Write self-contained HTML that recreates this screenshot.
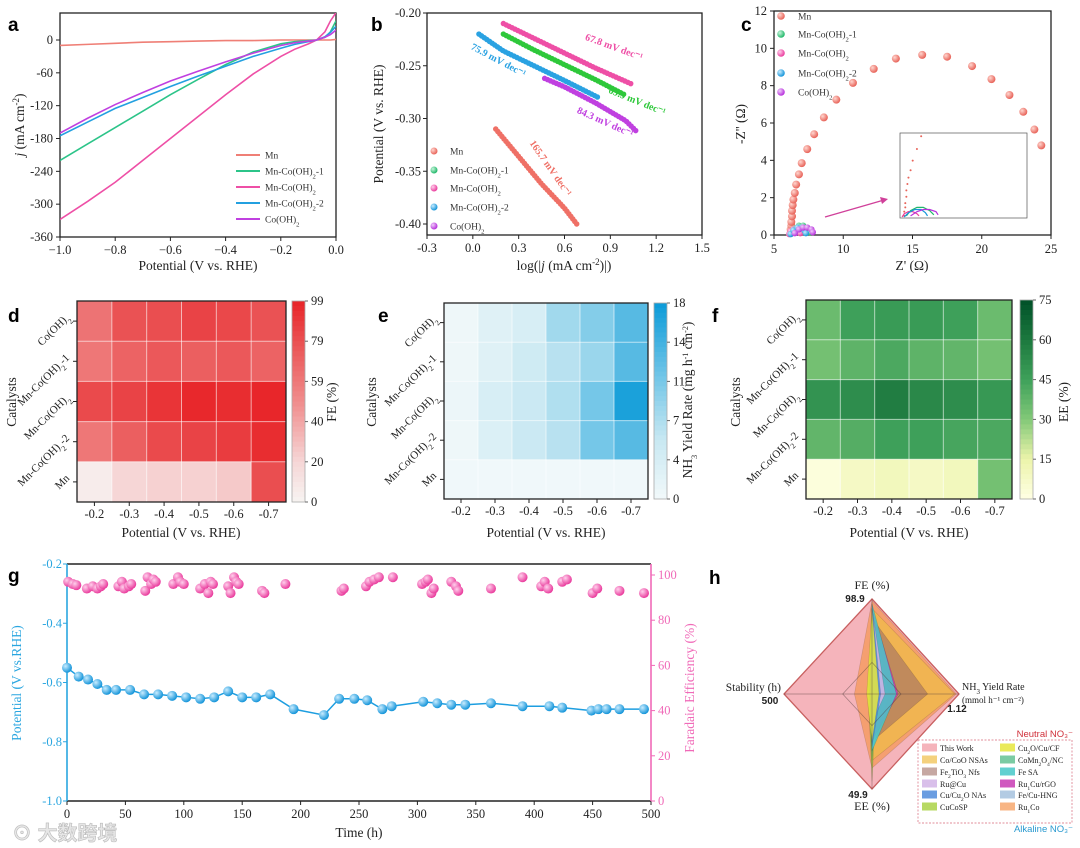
<!DOCTYPE html>
<html><head><meta charset="utf-8"><title>Catalyst figure</title>
<style>
html,body{margin:0;padding:0;background:#fff;}
svg{display:block;font-family:"Liberation Serif","Noto Serif CJK SC",serif;}
.lt{font-family:"Liberation Sans",sans-serif;font-weight:bold;font-size:19px;}
.tk{font-size:12.5px;fill:#222;}
.tk2{font-size:11px;fill:#222;}
.ti{font-size:13.5px;fill:#222;}
.lg{font-size:9.5px;fill:#333;}
.hl{font-size:8px;fill:#222;}
</style></head>
<body>
<svg id="fig" width="1080" height="848" viewBox="0 0 1080 848" xmlns="http://www.w3.org/2000/svg">
<defs>
 <clipPath id="clipA"><rect x="60" y="13" width="276" height="224"/></clipPath>
 <radialGradient id="gMn" cx="35%" cy="35%" r="65%"><stop offset="0" stop-color="#ffd6cf"/><stop offset="1" stop-color="#e8645a"/></radialGradient>
 <radialGradient id="gGr" cx="35%" cy="35%" r="65%"><stop offset="0" stop-color="#c8f5dc"/><stop offset="1" stop-color="#22b86a"/></radialGradient>
 <radialGradient id="gPk" cx="35%" cy="35%" r="65%"><stop offset="0" stop-color="#ffd0ec"/><stop offset="1" stop-color="#ea3e9e"/></radialGradient>
 <radialGradient id="gBl" cx="35%" cy="35%" r="65%"><stop offset="0" stop-color="#c9ecff"/><stop offset="1" stop-color="#1796da"/></radialGradient>
 <radialGradient id="gPu" cx="35%" cy="35%" r="65%"><stop offset="0" stop-color="#f0cdfb"/><stop offset="1" stop-color="#b731dc"/></radialGradient>
</defs>

<text class="lt" x="8" y="31">a</text>
<text class="lt" x="371" y="31">b</text>
<text class="lt" x="741" y="31">c</text>
<text class="lt" x="8" y="322">d</text>
<text class="lt" x="378" y="322">e</text>
<text class="lt" x="712" y="322">f</text>
<text class="lt" x="8" y="582">g</text>
<text class="lt" x="709" y="584">h</text>

<text class="ti" x="198" y="270" text-anchor="middle">Potential (V vs. RHE)</text>
<text class="ti" transform="translate(24,125) rotate(-90)" text-anchor="middle"><tspan font-style="italic">j</tspan> (mA cm<tspan baseline-shift="super" font-size="9">-2</tspan>)</text>
<text class="ti" x="564" y="270" text-anchor="middle">log(|<tspan font-style="italic">j</tspan> (mA cm<tspan baseline-shift="super" font-size="9">-2</tspan>)|)</text>
<text class="ti" transform="translate(383,124) rotate(-90)" text-anchor="middle">Potential (V vs. RHE)</text>
<text class="ti" x="912" y="270" text-anchor="middle">Z' (Ω)</text>
<text class="ti" transform="translate(745,124) rotate(-90)" text-anchor="middle">-Z'' (Ω)</text>

<text class="ti" x="181" y="537" text-anchor="middle">Potential (V vs. RHE)</text>
<text class="ti" transform="translate(16,402) rotate(-90)" text-anchor="middle">Catalysts</text>
<text class="ti" transform="translate(336,402) rotate(-90)" text-anchor="middle">FE (%)</text>
<text class="ti" x="546" y="537" text-anchor="middle">Potential (V vs. RHE)</text>
<text class="ti" transform="translate(376,402) rotate(-90)" text-anchor="middle">Catalysts</text>
<text class="ti" font-size="12" transform="translate(692,400) rotate(-90)" text-anchor="middle">NH<tspan baseline-shift="sub" font-size="8">3</tspan> Yield Rate (mg h<tspan baseline-shift="super" font-size="8">-1</tspan> cm<tspan baseline-shift="super" font-size="8">-2</tspan>)</text>
<text class="ti" x="909" y="537" text-anchor="middle">Potential (V vs. RHE)</text>
<text class="ti" transform="translate(740,402) rotate(-90)" text-anchor="middle">Catalysts</text>
<text class="ti" transform="translate(1068,402) rotate(-90)" text-anchor="middle">EE (%)</text>

<text class="ti" x="359" y="837" text-anchor="middle">Time (h)</text>
<text class="ti" style="fill:#2aa6e0" transform="translate(21,683) rotate(-90)" text-anchor="middle">Potential (V vs.RHE)</text>
<text class="ti" style="fill:#f06ab8" transform="translate(694,688) rotate(-90)" text-anchor="middle">Faradaic Efficiency (%)</text>
<text x="12" y="840" font-family="'Liberation Sans','Noto Sans CJK SC',sans-serif" font-size="20" font-weight="bold" fill="#e6e6e6" stroke="#bbb" stroke-width="0.6">⊙ 大数跨境</text>

<g id="root"></g>
</svg>

<script>
const NS='http://www.w3.org/2000/svg';
const root=document.getElementById('root');
function mk(tag,attrs,parent){const e=document.createElementNS(NS,tag);for(const k in attrs)e.setAttribute(k,attrs[k]);(parent||root).appendChild(e);return e;}
function lin(d0,d1,r0,r1){return v=>r0+(v-d0)*(r1-r0)/(d1-d0);}

/* ===== Panel a data ===== */
const aVolt=[-1.0,-0.9,-0.8,-0.7,-0.6,-0.5,-0.4,-0.3,-0.2,-0.15,-0.1,-0.07,-0.04,-0.02,0.0];
const aMn=[-10,-8,-6,-4,-3,-2,-1,-1,0,0,0,0,0,0,1];
const aMnCo1=[-220,-190,-160,-130,-100,-72,-45,-22,-7,-3,-1,0,5,15,35];
const aMnCo=[-328,-295,-260,-220,-180,-140,-100,-62,-30,-17,-7,0,15,35,50];
const aMnCo2=[-175,-150,-125,-105,-85,-66,-48,-30,-15,-8,-3,0,6,14,25];
const aCo=[-170,-143,-118,-96,-75,-57,-40,-24,-10,-5,-2,0,5,10,18];
const aXTicks=[-1.0,-0.8,-0.6,-0.4,-0.2,0.0];
const aYTicks=[0,-60,-120,-180,-240,-300,-360];
const aNames=['Mn','Mn-Co(OH)2-1','Mn-Co(OH)2','Mn-Co(OH)2-2','Co(OH)2'];
/* ===== Panel b data ===== */
const bMnX=[0.15,0.3,0.45,0.6,0.68], bMnY=[-0.31,-0.336,-0.362,-0.385,-0.40];
const bMnCo1X=[0.2,0.4,0.6,0.8,1.0], bMnCo1Y=[-0.22,-0.235,-0.249,-0.263,-0.278];
const bMnCoX=[0.2,0.4,0.6,0.8,1.05], bMnCoY=[-0.21,-0.224,-0.238,-0.252,-0.268];
const bMnCo2X=[0.04,0.2,0.4,0.6,0.82], bMnCo2Y=[-0.22,-0.236,-0.25,-0.264,-0.28];
const bCoX=[0.47,0.6,0.8,1.0,1.07], bCoY=[-0.262,-0.27,-0.285,-0.302,-0.312];
const bXTicks=[-0.3,0.0,0.3,0.6,0.9,1.2,1.5];
const bYTicks=[-0.20,-0.25,-0.30,-0.35,-0.40];
/* ===== Panel c data ===== */
const cMnRe=[6.2,6.2,6.25,6.25,6.3,6.3,6.35,6.4,6.5,6.6,6.8,7.0,7.4,7.9,8.6,9.5,10.7,12.2,13.8,15.7,17.5,19.3,20.7,22,23,23.8,24.3];
const cMnIm=[0.1,0.3,0.5,0.7,1.0,1.3,1.6,1.9,2.25,2.7,3.25,3.85,4.6,5.4,6.3,7.25,8.15,8.9,9.45,9.65,9.55,9.05,8.35,7.5,6.6,5.65,4.8];
const cMnCo1Re=[6.3,6.5,6.8,7.1,7.4,7.6], cMnCo1Im=[0.1,0.35,0.5,0.5,0.35,0.15];
const cMnCoRe=[6.1,6.2,6.4,6.6,6.8,6.9], cMnCoIm=[0.05,0.2,0.3,0.3,0.2,0.1];
const cMnCo2Re=[6.2,6.4,6.7,7.0,7.2,7.3], cMnCo2Im=[0.05,0.25,0.4,0.4,0.25,0.1];
const cCoRe=[6.5,6.8,7.1,7.4,7.7,7.8], cCoIm=[0.1,0.3,0.4,0.4,0.3,0.15];
const cXTicks=[5,10,15,20,25];
const cYTicks=[0,2,4,6,8,10,12];
/* ===== Heatmaps d/e/f ===== */
const hmCols=['-0.2','-0.3','-0.4','-0.5','-0.6','-0.7'];
const hmRows=['Co(OH)2','Mn-Co(OH)2-1','Mn-Co(OH)2','Mn-Co(OH)2-2','Mn'];
const dFE=[[62,78,80,85,83,78],[60,70,75,72,75,70],[82,85,92,97,95,98],[60,72,82,85,88,95],[5,20,22,22,25,80]];
const eYield=[[0.5,2.5,3.5,8,10,13],[0.5,2.5,4.5,6.5,8.5,13],[0.8,3.5,5,7,11,17],[0.5,3,5,6.5,11,13],[0.3,0.3,0.3,0.3,0.3,0.3]];
const fEE=[[35,45,47,47,45,35],[33,38,42,38,37,33],[50,52,58,54,52,48],[37,40,45,45,43,42],[2,8,10,8,10,33]];
const dTicks=['0','20','40','59','79','99'];
const eTicks=['0','4','7','11','14','18'];
const fTicks=['0','15','30','45','60','75'];
/* ===== Panel g ===== */
const gPotT=[0,10,18,26,34,42,54,66,78,90,102,114,126,138,150,162,174,194,220,233,246,257,270,278,305,317,329,341,363,390,413,424,449,455,462,473,494];
const gPotV=[-0.55,-0.58,-0.59,-0.605,-0.625,-0.625,-0.625,-0.64,-0.64,-0.645,-0.65,-0.655,-0.65,-0.63,-0.65,-0.65,-0.64,-0.69,-0.71,-0.655,-0.655,-0.66,-0.69,-0.68,-0.665,-0.67,-0.675,-0.675,-0.67,-0.68,-0.68,-0.685,-0.695,-0.69,-0.69,-0.69,-0.69];
const gFeT=[1,5,8,17,22,26,29,31,44,47,49,53,55,67,69,72,74,76,91,95,97,100,114,118,121,123,125,138,140,143,145,147,167,169,187,235,237,256,259,263,267,279,304,307,309,312,314,329,333,335,363,390,406,409,412,424,428,450,454,473,494];
const gFeV=[97,96,95.5,94,95,94,95,96,95,97,94,95,96,93,99,96,98,97,96,99,97,96,94,96,92,97,96,95,92,99,97,96,93,92,96,93,94,95,97,98,99,99,96,97,98,92,94,97,95,93,94,99,95,97,94,97,98,92,94,93,92];
const gXTicks=[0,50,100,150,200,250,300,350,400,450,500];
const gLTicks=[-0.2,-0.4,-0.6,-0.8,-1.0];
const gRTicks=[0,20,40,60,80,100];
/* ===== Panel h radar ===== */
const hSeriesNames=['This Work','Ru1Co','Co/CoO NSAs','Fe2TiO3 Nfs','CuCoSP','CoMn2O4/NC','Fe/Cu-HNG','Ru1Cu/rGO','Fe SA','Ru@Cu','Cu/Cu2O NAs','Cu2O/Cu/CF'];
const hFE=[1,0.98,0.9,0.8,0.85,0.9,0.9,0.9,0.95,0.9,0.95,0.9];
const hYield=[1,0.97,0.95,0.64,0.05,0.05,0.2,0.3,0.28,0.15,0.1,0.08];
const hEE=[1,0.78,0.7,0.5,0.92,0.7,0.6,0.5,0.6,0.3,0.55,0.5];
const hStab=[1,0.2,0.05,0.03,0.04,0.03,0.02,0.02,0.02,0.02,0.02,0.06];
const hColors=['rgba(240,140,150,0.65)','rgba(245,150,80,0.7)','rgba(240,190,70,0.7)','rgba(160,110,100,0.6)','rgba(170,210,70,0.85)','rgba(90,190,140,0.8)','rgba(160,190,220,0.8)','rgba(200,60,180,0.85)','rgba(70,200,200,0.85)','rgba(210,180,230,0.85)','rgba(80,140,220,0.85)','rgba(230,230,60,0.85)'];

function txt(x,y,s,cls,anchor,parent){const t=mk('text',{x:x,y:y,'class':cls||'tk','text-anchor':anchor||'middle'},parent);t.textContent=s;return t;}
function chem(t,s){
  t.textContent='';
  const parts=s.split(/(\)\d|[A-Za-z]\d)/);
  parts.forEach(p=>{ if(!p)return;
    if(/^(\)|[A-Za-z])\d$/.test(p)){const a=document.createElementNS(NS,'tspan');a.textContent=p[0];t.appendChild(a);
      const b=document.createElementNS(NS,'tspan');b.setAttribute('baseline-shift','sub');b.setAttribute('font-size','0.7em');b.textContent=p[1];t.appendChild(b);}
    else{const a=document.createElementNS(NS,'tspan');a.textContent=p;t.appendChild(a);} });
}

/* ---------------- Panel a ---------------- */
(function(){
 const x=lin(-1,0,60,336), y=lin(0,-360,40,237);
 const g=mk('g',{});
 
 
 const fr=mk('rect',{x:60,y:13,width:276,height:224,fill:'none',stroke:'#222','stroke-width':1.3},g);
 
 
 aXTicks.forEach(v=>{mk('line',{x1:x(v),x2:x(v),y1:237,y2:241,stroke:'#222'},g);
   const t=txt(x(v),254,(v<0?'−':'')+Math.abs(v).toFixed(1),'tk','middle',g);
   
   });
 aYTicks.forEach(v=>{mk('line',{x1:56,x2:60,y1:y(v),y2:y(v),stroke:'#222'},g);
   const t=txt(53,y(v)+4,String(v),'tk','end',g);
   
   });
 const series=[aMn,aMnCo1,aMnCo,aMnCo2,aCo];
 const cols=['#ef7f76','#2cc489','#ee4fa6','#23a0e0','#c040e0'];
 const cg=mk('g',{'clip-path':'url(#clipA)'},g);
 series.forEach((s,i)=>{
   const p=mk('polyline',{points:aVolt.map((v,k)=>x(v)+','+y(s[k])).join(' '),fill:'none',stroke:cols[i],'stroke-width':1.6},cg);
   
   
 });
 const ly=[155,171,187,203,219];
 aNames.forEach((n,i)=>{
   const l=mk('line',{x1:236,x2:260,y1:ly[i],y2:ly[i],stroke:cols[i],'stroke-width':2},g);
   
   
   const t=txt(265,ly[i]+3.5,'', 'lg','start',g); chem(t,n);
   
   
 });
})();

/* ---------------- Panel b ---------------- */
(function(){
 const x=lin(-0.3,1.5,427,702), y=lin(-0.2,-0.4,13,224);
 const g=mk('g',{});
 
 
 const fr=mk('rect',{x:427,y:13,width:275,height:222,fill:'none',stroke:'#222','stroke-width':1.3},g);
 
 
 bXTicks.forEach(v=>{mk('line',{x1:x(v),x2:x(v),y1:235,y2:239,stroke:'#222'},g);
   const t=txt(x(v),252,v.toFixed(1),'tk','middle',g);
   
   });
 bYTicks.forEach(v=>{mk('line',{x1:423,x2:427,y1:y(v),y2:y(v),stroke:'#222'},g);
   const t=txt(421,y(v)+4,v.toFixed(2),'tk','end',g);
   
   });
 const sx=[bMnX,bMnCo1X,bMnCoX,bMnCo2X,bCoX], sy=[bMnY,bMnCo1Y,bMnCoY,bMnCo2Y,bCoY];
 const cols=['#ef7066','#2ec83a','#ee4fa6','#2aa2e2','#c040e0'];
 const names=['Mn','Mn-Co(OH)2-1','Mn-Co(OH)2','Mn-Co(OH)2-2','Co(OH)2'];
 sx.forEach((xs,i)=>{
   const pts=xs.map((v,k)=>x(v)+','+y(sy[i][k])).join(' ');
   const p=mk('polyline',{points:pts,fill:'none',stroke:cols[i],'stroke-width':5.5,'stroke-linecap':'round','stroke-dasharray':'0 3.2'},g);
   
   
 });
 const labels=[['67.8 mV dec⁻¹',613,50,20,'#ee4fa6'],['69.9 mV dec⁻¹',636,104,22,'#2ec83a'],['84.3 mV dec⁻¹',604,125,24,'#c040e0'],['75.9 mV dec⁻¹',497,63,28,'#2aa2e2'],['165.7 mV dec⁻¹',548,170,55,'#ef7066']];
 labels.forEach(L=>{const t=mk('text',{x:0,y:0,'text-anchor':'middle','font-size':10,'font-weight':'bold',fill:L[4],transform:`translate(${L[1]},${L[2]}) rotate(${L[3]})`},g);t.textContent=L[0];
   
   });
 const grads=['gMn','gGr','gPk','gBl','gPu'];
 const ly=[151,170,188,207,226];
 names.forEach((n,i)=>{
   const c=mk('circle',{cx:434,cy:ly[i],r:3.5,fill:'url(#'+grads[i]+')'},g);
   
   
   const t=txt(450,ly[i]+3.5,'','lg','start',g); chem(t,n);
   
   
 });
})();

/* ---------------- Panel c ---------------- */
(function(){
 const x=lin(5,25,774,1051), y=lin(0,12,235,11);
 const g=mk('g',{});
 
 
 const fr=mk('rect',{x:774,y:11,width:277,height:224,fill:'none',stroke:'#222','stroke-width':1.3},g);
 
 
 cXTicks.forEach(v=>{mk('line',{x1:x(v),x2:x(v),y1:235,y2:239,stroke:'#222'},g);
   const t=txt(x(v),253,String(v),'tk','middle',g);
   
   });
 cYTicks.forEach(v=>{mk('line',{x1:770,x2:774,y1:y(v),y2:y(v),stroke:'#222'},g);
   const t=txt(767,y(v)+4,String(v),'tk','end',g);
   
   });
 const re=[cMnRe,cMnCo1Re,cMnCoRe,cMnCo2Re,cCoRe], im=[cMnIm,cMnCo1Im,cMnCoIm,cMnCo2Im,cCoIm];
 const grads=['gMn','gGr','gPk','gBl','gPu'];
 re.forEach((rs,i)=>{ rs.forEach((v,k)=>{
   const c=mk('circle',{cx:x(v),cy:y(im[i][k]),r:i===0?4:3.2,fill:'url(#'+grads[i]+')'},g);
   
   
 });});
 const names=['Mn','Mn-Co(OH)2-1','Mn-Co(OH)2','Mn-Co(OH)2-2','Co(OH)2'];
 const ly=[16,34,53,73,92];
 names.forEach((n,i)=>{
   const c=mk('circle',{cx:781,cy:ly[i],r:3.8,fill:'url(#'+grads[i]+')'},g);
   
   
   const t=txt(798,ly[i]+3.5,'','lg','start',g); chem(t,n);
   
   
 });
 const inset=mk('rect',{x:900,y:133,width:127,height:85,fill:'#fff',stroke:'#555','stroke-width':0.7},g);
 
 
 const ix=lin(6,12,900,1027), iy=lin(0,4,218,133);
 cMnRe.forEach((v,k)=>{ if(cMnIm[k]<=4){const c=mk('circle',{cx:ix(v),cy:iy(cMnIm[k]),r:1,fill:'#e8645a'},g);
   
   }});
 [[cMnCo1Re,cMnCo1Im,'#22b86a'],[cMnCoRe,cMnCoIm,'#ea3e9e'],[cMnCo2Re,cMnCo2Im,'#1796da'],[cCoRe,cCoIm,'#b731dc']].forEach(S=>{
   const p=mk('polyline',{points:S[0].map((v,k)=>ix(v)+','+iy(S[1][k])).join(' '),fill:'none',stroke:S[2],'stroke-width':1.2},g);
   
   });
 const ar=mk('line',{x1:825,y1:217,x2:884,y2:200,stroke:'#d0409a','stroke-width':1.3},g);
 
 
 mk('polygon',{points:'888,199 880,197 882,204',fill:'#d0409a'},g);
})();

/* ---------------- Heatmaps ---------------- */
function interp(stops,t){
  t=Math.max(0,Math.min(1,t));
  for(let i=1;i<stops.length;i++){ if(t<=stops[i][0]){const a=stops[i-1],b=stops[i];const u=(t-a[0])/(b[0]-a[0]);
    return 'rgb('+a[1].map((c,k)=>Math.round(c+(b[1][k]-c)*u)).join(',')+')';}}
  return 'rgb('+stops[stops.length-1][1].join(',')+')';
}
const redStops=[[0,[247,244,242]],[0.2,[246,214,214]],[0.5,[240,140,140]],[0.8,[234,80,82]],[1,[232,36,40]]];
const blueStops=[[0,[242,249,250]],[0.3,[200,232,242]],[0.6,[120,200,232]],[1,[12,155,216]]];
const greenStops=[[0,[255,255,228]],[0.2,[236,244,170]],[0.4,[130,200,120]],[0.6,[62,160,90]],[0.8,[28,120,62]],[1,[0,80,40]]];
function heat(key,data,vmax,stops,L,R,T,B,cbx,ticks){
 const g=mk('g',{});
 
 
 const cw=(R-L)/hmCols.length, ch=(B-T)/hmRows.length;
 data.forEach((row,r)=>row.forEach((v,c)=>{
   const cell=mk('rect',{x:L+c*cw,y:T+r*ch,width:cw+0.3,height:ch+0.3,fill:interp(stops,v/vmax)},g);
   
   
 }));
 for(let c=1;c<hmCols.length;c++) mk('line',{x1:L+c*cw,x2:L+c*cw,y1:T,y2:B,stroke:'rgba(255,255,255,0.6)','stroke-width':1},g);
 for(let r=1;r<hmRows.length;r++) mk('line',{x1:L,x2:R,y1:T+r*ch,y2:T+r*ch,stroke:'rgba(255,255,255,0.6)','stroke-width':1},g);
 const fr=mk('rect',{x:L,y:T,width:R-L,height:B-T,fill:'none',stroke:'#222','stroke-width':1.3},g);
 
 
 hmCols.forEach((s,c)=>{const cx=L+(c+0.5)*cw; mk('line',{x1:cx,x2:cx,y1:B,y2:B+4,stroke:'#222'},g);
   const t=txt(cx,B+16,s,'tk','middle',g);
   
   });
 hmRows.forEach((s,r)=>{const cy=T+(r+0.5)*ch; mk('line',{x1:L-4,x2:L,y1:cy,y2:cy,stroke:'#222'},g);
   const t=mk('text',{x:0,y:0,'class':'tk2','text-anchor':'end',transform:`translate(${L-7},${cy-3}) rotate(-45)`},g); chem(t,s);
   
   });
 const n=40, hgt=(B-T)/n;
 for(let i=0;i<n;i++){const v=1-(i+0.5)/n; mk('rect',{x:cbx,y:T+i*hgt,width:13,height:hgt+0.4,fill:interp(stops,v)},g);}
 const cb=mk('rect',{x:cbx,y:T,width:13,height:B-T,fill:'none',stroke:'#aaa','stroke-width':0.8},g);
 
 
 ticks.forEach((s,i)=>{const ty=B-(B-T)*i/(ticks.length-1); mk('line',{x1:cbx+13,x2:cbx+16,y1:ty,y2:ty,stroke:'#666'},g);
   const t=txt(cbx+19,ty+4,s,'tk','start',g);
   
   });
}
heat('d',dFE,99,redStops,77,286,301,502,292,dTicks);
heat('e',eYield,18,blueStops,444,648,303,499,654,eTicks);
heat('f',fEE,75,greenStops,806,1012,300,499,1020,fTicks);

/* ---------------- Panel g ---------------- */
(function(){
 const x=lin(0,500,67,651), yL=lin(-0.2,-1.0,564,801), yR=lin(0,100,801,575);
 const g=mk('g',{});
 
 
 mk('line',{x1:67,x2:651,y1:564,y2:564,stroke:'#222','stroke-width':1.5},g);
 mk('line',{x1:67,x2:651,y1:801,y2:801,stroke:'#222','stroke-width':1.5},g);
 const la=mk('line',{x1:67,x2:67,y1:564,y2:801,stroke:'#2aa6e0','stroke-width':1.6},g);
 
 
 const ra=mk('line',{x1:651,x2:651,y1:564,y2:801,stroke:'#f06ab8','stroke-width':1.6},g);
 
 
 gXTicks.forEach(v=>{mk('line',{x1:x(v),x2:x(v),y1:801,y2:805,stroke:'#222'},g);
   const t=txt(x(v),818,String(v),'tk','middle',g);
   
   });
 gLTicks.forEach(v=>{mk('line',{x1:63,x2:67,y1:yL(v),y2:yL(v),stroke:'#2aa6e0'},g);
   const t=txt(62,yL(v)+4,v.toFixed(1),'tk','end',g); t.setAttribute('style','fill:#2aa6e0');
   
   });
 gRTicks.forEach(v=>{mk('line',{x1:651,x2:655,y1:yR(v),y2:yR(v),stroke:'#f06ab8'},g);
   const t=txt(658,yR(v)+4,String(v),'tk','start',g); t.setAttribute('style','fill:#f06ab8');
   
   });
 const pl=mk('polyline',{points:gPotT.map((t,k)=>x(t)+','+yL(gPotV[k])).join(' '),fill:'none',stroke:'#1d9ee0','stroke-width':1.5},g);
 
 
 gPotT.forEach((t,k)=>{const c=mk('circle',{cx:x(t),cy:yL(gPotV[k]),r:5,fill:'url(#gBl)'},g);
   
   });
 gFeT.forEach((t,k)=>{const c=mk('circle',{cx:x(t),cy:yR(gFeV[k]),r:5,fill:'url(#gPk)'},g);
   
   });
})();

/* ---------------- Panel h ---------------- */
(function(){
 const cx=872, cy=694, rT=95, rR=87, rB=95, rL=88;
 const g=mk('g',{});
 
 
 hSeriesNames.forEach((nm,i)=>{
   const pts=[[cx,cy-rT*hFE[i]],[cx+rR*hYield[i],cy],[cx,cy+rB*hEE[i]],[cx-rL*hStab[i],cy]];
   const p=mk('polygon',{points:pts.map(q=>q.join(',')).join(' '),fill:hColors[i],stroke:i===0?'#c86060':'rgba(0,0,0,0.15)','stroke-width':i===0?1.3:0.6},g);
   
   
 });
 mk('line',{x1:cx-rL,x2:cx+rR,y1:cy,y2:cy,stroke:'rgba(80,60,60,0.5)','stroke-width':0.7},g);
 mk('line',{x1:cx,x2:cx,y1:cy-rT,y2:cy+rB,stroke:'rgba(80,60,60,0.5)','stroke-width':0.7},g);
 mk('polygon',{points:`${cx},${cy-rT/3} ${cx+rR/3},${cy} ${cx},${cy+rB/3} ${cx-rL/3},${cy}`,fill:'none',stroke:'rgba(80,60,60,0.5)','stroke-width':0.7},g);
 const lab=[['FE (%)',872,589,'middle',12,false],['98.9',855,602,'middle',10,true],['Stability (h)',781,691,'end',11.5,false],['500',770,704,'middle',10,true],
   ['1.12',957,712,'middle',10,true],['49.9',858,798,'middle',10,true],['EE (%)',872,810,'middle',12,false]];
 lab.forEach(L=>{const t=txt(L[1],L[2],L[0],'hl', L[3],g); t.style.fontSize=L[4]+'px'; if(L[5]){t.style.fontWeight='bold';t.style.fontFamily='"Liberation Sans", sans-serif';}
   
   });
 const y1=txt(962,690,'','hl','start',g); y1.style.fontSize='10px'; chem(y1,'NH3 Yield Rate');
 
 
 const y2=txt(962,703,'(mmol h⁻¹ cm⁻²)','hl','start',g); y2.style.fontSize='9px';
 
 
 const lb=mk('rect',{x:918,y:740,width:154,height:83,fill:'#fff',stroke:'#d86a7a','stroke-width':0.7,'stroke-dasharray':'2 1.5'},g);
 
 
 const nt=txt(1073,737,'Neutral NO₃⁻','hl','end',g); nt.style.fontSize='9.5px'; nt.style.fontFamily='"Liberation Sans", sans-serif'; nt.style.fill='#d0303a';
 
 
 const at=txt(1073,832,'Alkaline NO₃⁻','hl','end',g); at.style.fontSize='9.5px'; at.style.fontFamily='"Liberation Sans", sans-serif'; at.style.fill='#2a9ad0';
 
 
 const legL=[0,2,3,9,10,4], legR=[11,5,8,7,6,1];
 const ry=[748,760,772,784,795,807];
 legL.forEach((si,r)=>{
   const s=mk('rect',{x:922,y:ry[r]-4.5,width:15,height:8,fill:hColors[si]},g);
   
   
   const t=txt(940,ry[r]+3,'','hl','start',g); t.style.fontSize='8px'; chem(t,hSeriesNames[si]);
   
   
 });
 legR.forEach((si,r)=>{
   const s=mk('rect',{x:1000,y:ry[r]-4.5,width:15,height:8,fill:hColors[si]},g);
   
   
   const t=txt(1018,ry[r]+3,'','hl','start',g); t.style.fontSize='8px'; chem(t,hSeriesNames[si]);
   
   
 });
})();
</script>
</body></html>
